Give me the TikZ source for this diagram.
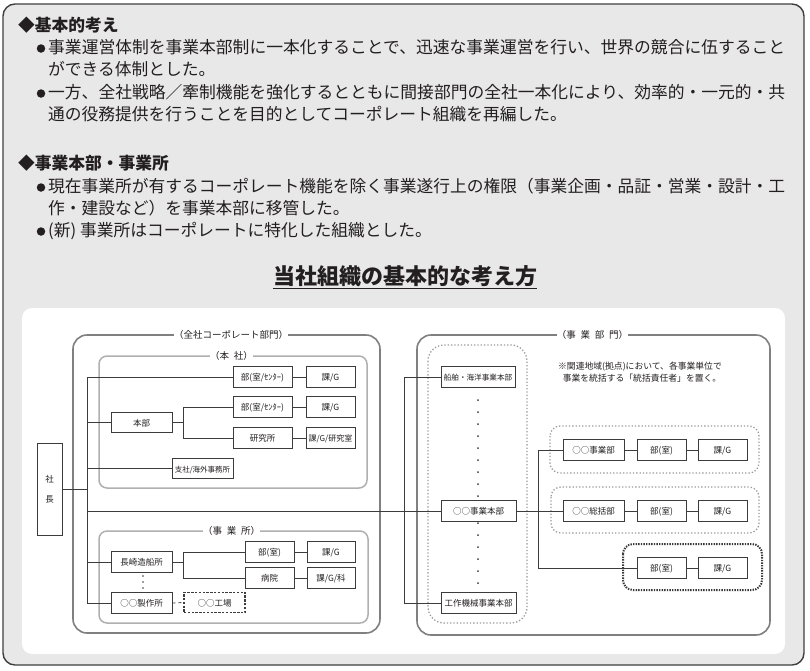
\documentclass[tikz,border=0pt]{standalone}
\usepackage{fontspec}
\setmainfont{Noto Sans CJK JP}
\usepackage{graphicx}
\usetikzlibrary{calc}
\definecolor{bgout}{HTML}{E8E8E9}
\definecolor{framec}{HTML}{3F3F3F}
\definecolor{ink}{HTML}{231F20}
\definecolor{grpAc}{HTML}{808080}
\definecolor{grpBc}{HTML}{B0B0B0}
\definecolor{linec}{HTML}{3C3C3C}
\definecolor{dotlight}{HTML}{9A9A9A}
\definecolor{dotdark}{HTML}{3A3A3A}
\begin{document}
\begin{tikzpicture}[x=1pt,y=-1pt,
  txt/.style={inner sep=0pt, text height=.88em, text depth=.12em, text=ink},
  body/.style={txt, anchor=west, font=\fontsize{16.75}{20}\selectfont},
  head/.style={txt, anchor=west, font=\fontsize{16.75}{20}\selectfont\bfseries},
  bul/.style={circle, fill=ink, inner sep=0pt, minimum size=8.5pt},
  obox/.style={draw=linec, line width=.8pt, fill=white, inner sep=0pt, minimum height=20.5pt,
    text height=.88em, text depth=.12em, text=ink, font=\fontsize{8.5}{10}\selectfont},
  conn/.style={draw=linec, line width=.8pt},
  grpA/.style={draw=grpAc, line width=1.6pt, rounded corners=14pt},
  grpB/.style={draw=grpBc, line width=1.5pt, rounded corners=8pt},
  glabel/.style={fill=white, inner sep=2pt, txt, font=\fontsize{9.5}{11}\selectfont},
  dotbox/.style={draw=dotlight, line width=1.3pt, dotted, rounded corners=10pt},
  note/.style={txt, font=\fontsize{8.8}{10}\selectfont},
]
\useasboundingbox (0,0) rectangle (810,670);
% frames
\draw[framec, line width=1.4pt, fill=bgout, rounded corners=12pt] (3,4) rectangle (804,665);
\fill[white, rounded corners=10pt] (22,308) rectangle (785,654);

% text block
\node[head] (h1) at (18,28) {◆基本的考え};
\node[bul] (b1) at (41,48.5) {};
\node[body] (l1) at (48,50) {\resizebox{737pt}{\height}{事業運営体制を事業本部制に一本化することで、迅速な事業運営を行い、世界の競合に伍すること}};
\node[body] (l2) at (48,72) {ができる体制とした。};
\node[bul] (b2) at (41,93.5) {};
\node[body] (l3) at (48,95) {\resizebox{737pt}{\height}{一方、全社戦略／牽制機能を強化するとともに間接部門の全社一本化により、効率的・一元的・共}};
\node[body] (l4) at (48,117) {通の役務提供を行うことを目的としてコーポレート組織を再編した。};
\node[head] (h2) at (18,166) {◆事業本部・事業所};
\node[bul] (b3) at (41,187.5) {};
\node[body] (l5) at (48,189) {\resizebox{737pt}{\height}{現在事業所が有するコーポレート機能を除く事業遂行上の権限（事業企画・品証・営業・設計・工}};
\node[body] (l6) at (48,211) {作・建設など）を事業本部に移管した。};
\node[bul] (b4) at (41,231.5) {};
\node[body] (l7) at (48,233) {(新) 事業所はコーポレートに特化した組織とした。};
\node[txt, font=\fontsize{22}{26}\selectfont\bfseries] (title) at (405,281) {当社組織の基本的な考え方};
\draw[ink, line width=1.2pt] ($(title.south west)+(0,2)$) -- ($(title.south east)+(0,2)$);

% group boxes
\draw[grpA] (73,335) rectangle (380,633);
\draw[grpB] (99,356) rectangle (367,488);
\draw[grpB] (99,531) rectangle (368,623);
\draw[grpA] (417,335) rectangle (770,635);
\draw[draw=dotlight, line width=1.3pt, dotted, rounded corners=16pt] (428,345) rectangle (527,623);
\draw[dotbox] (550,426) rectangle (759,473);
\draw[dotbox] (551,487) rectangle (759,533);
\draw[draw=dotdark, line width=2pt, dash pattern=on 1.4pt off 1.2pt, rounded corners=10pt] (623,544) rectangle (762,590);

\node[glabel] (gl1) at (231,335) {（全社コーポレート部門）};
\node[glabel] (gl2) at (231.5,356) {（本\hspace{.5em}社）};
\node[glabel] (gl3) at (231.5,531) {（事\hspace{.5em}業\hspace{.5em}所）};
\node[glabel] (gl4) at (592.5,335) {（事\hspace{.5em}業\hspace{.5em}部\hspace{.5em}門）};

% coordinates for trunks
\coordinate (ltx) at (87,0);
\coordinate (rtx) at (404,0);
\coordinate (fx1) at (183,0);
\coordinate (fx2) at (538,0);

% connectors (under boxes)
\draw[conn] (49.5,489) -- (87,489);
\draw[conn] (262.5,377) -- (87,377) -- (87,603) -- (141.5,603);
\draw[conn] (87,422) -- (141.5,422);
\draw[conn] (87,468) -- (202.5,468);
\draw[conn] (87,562) -- (141.5,562);
\draw[conn] (87,511) -- (478.5,511);
\draw[conn] (478,377) -- (404,377) -- (404,603) -- (478.5,603);

% nodes: 本社
\node[obox, minimum width=25pt, minimum height=92pt] (shacho) at (49.5,489) {};
\node[txt, font=\fontsize{8.5}{10}\selectfont] (sha1) at (49.5,479) {社};
\node[txt, font=\fontsize{8.5}{10}\selectfont] (sha2) at (49.5,499) {長};
\node[obox, minimum width=59pt] (bu1) at (262.5,377) {部(室/ｾﾝﾀｰ)};
\node[obox, minimum width=49pt] (ka1) at (330.5,377) {課/G};
\node[obox, minimum width=59pt] (bu2) at (262.5,407) {部(室/ｾﾝﾀｰ)};
\node[obox, minimum width=49pt] (ka2) at (330.5,407) {課/G};
\node[obox, minimum width=59pt] (ken) at (262.5,438) {研究所};
\node[obox, minimum width=49pt, font=\fontsize{8}{10}\selectfont] (ka3) at (330.5,438) {課/G/研究室};
\node[obox, minimum width=61pt] (honbu) at (141.5,422.5) {本部};
\node[obox, minimum width=61pt, font=\fontsize{7.5}{9}\selectfont] (shisha) at (202.5,468.5) {支社/海外事務所};

% 事業所
\node[obox, minimum width=61pt] (naga) at (141.5,562) {長崎造船所};
\node[obox, minimum width=49pt] (bu4) at (269.5,552) {部(室)};
\node[obox, minimum width=48pt] (ka4) at (331,552) {課/G};
\node[obox, minimum width=49pt] (byo) at (269.5,578) {病院};
\node[obox, minimum width=48pt] (ka5) at (331,578) {課/G/科};
\node[obox, minimum width=61pt] (seisaku) at (141.5,603) {○○製作所};
\node[obox, minimum width=61pt, dash pattern=on 2.4pt off 1.4pt, line width=1.2pt] (kojo) at (214.5,602.5) {○○工場};
\foreach \yy in {576,582,588} \fill[linec] (143,\yy) circle (0.9pt);

% 事業部門
\node[obox, minimum width=74pt, font=\fontsize{7.6}{9}\selectfont] (sen) at (478,377) {船舶・海洋事業本部};
\node[obox, minimum width=75pt] (jh) at (478.5,511) {○○事業本部};
\node[obox, minimum width=75pt] (kk) at (478.5,603) {工作機械事業本部};
\foreach \yy in {400,412,...,496} \fill[linec] (478,\yy) circle (1pt);
\foreach \yy in {523,535,...,583} \fill[linec] (478,\yy) circle (1pt);

\node[obox, minimum width=61pt] (j1) at (593.5,450) {○○事業部};
\node[obox, minimum width=49pt] (bb1) at (661.5,450) {部(室)};
\node[obox, minimum width=49pt] (kb1) at (722.5,450) {課/G};
\node[obox, minimum width=61pt] (s2) at (593.5,511) {○○総括部};
\node[obox, minimum width=49pt] (bb2) at (661.5,511) {部(室)};
\node[obox, minimum width=49pt] (kb2) at (722.5,511) {課/G};
\node[obox, minimum width=49pt] (bb3) at (661.5,568) {部(室)};
\node[obox, minimum width=49pt] (kb3) at (722.5,568) {課/G};

\node[note] (n1) at (640,366) {※関連地域(拠点)において、各事業単位で};
\node[note] (n2) at (642,378) {事業を統括する「統括責任者」を置く。};

% connectors between boxes
\draw[conn] (bu1.east) -- (ka1.west);
\draw[conn] (bu2.east) -- (ka2.west);
\draw[conn] (ken.east) -- (ka3.west);
\draw[conn] (honbu.east) -- (honbu.east -| fx1);
\draw[conn] (bu2.west) -- (bu2.west -| fx1) -- (ken.west -| fx1) -- (ken.west);
\draw[conn] (naga.east) -- (naga.east -| fx1);
\draw[conn] (bu4.west) -- (bu4.west -| fx1) -- (byo.west -| fx1) -- (byo.west);
\draw[conn] (bu4.east) -- (ka4.west);
\draw[conn] (byo.east) -- (ka5.west);
\draw[conn, dashed] (seisaku.east) -- (kojo.west);
\draw[conn] (jh.east) -- (s2.west);
\draw[conn] (j1.west) -- (j1.west -| fx2) -- (bb3.west -| fx2) -- (bb3.west);
\draw[conn] (j1.east) -- (bb1.west);
\draw[conn] (bb1.east) -- (kb1.west);
\draw[conn] (s2.east) -- (bb2.west);
\draw[conn] (bb2.east) -- (kb2.west);
\draw[conn] (bb3.east) -- (kb3.west);
\end{tikzpicture}
\end{document}
